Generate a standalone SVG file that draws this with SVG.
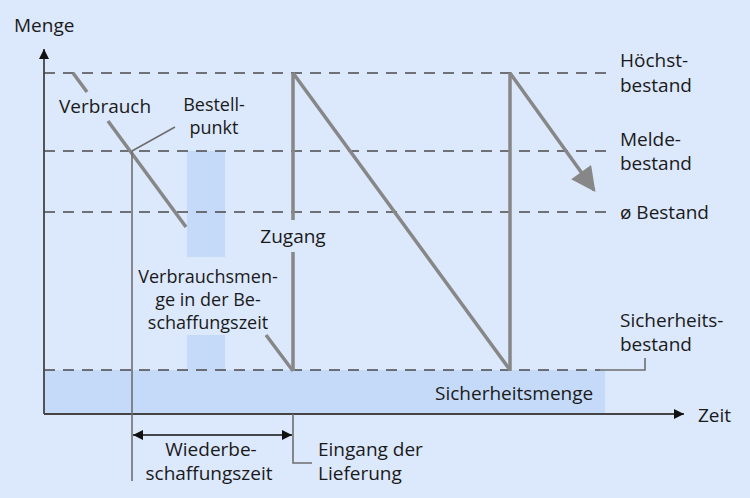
<svg xmlns="http://www.w3.org/2000/svg" width="750" height="498" viewBox="0 0 750 498">
<defs>
<style>
text{font-family:"Open Sans","Liberation Sans",sans-serif;font-size:19px;fill:#1a1a1a}
.dash{stroke:#4a4a4a;stroke-width:1.4;stroke-dasharray:11 8;fill:none}
.thick{stroke:#878787;stroke-width:3.5;fill:none}
.thin{stroke:#6e6e6e;stroke-width:1.6;fill:none}
.axis{stroke:#444;stroke-width:1.8;fill:none}
.shade{fill:#c5daf9}
.mid{text-anchor:middle}
.sm{font-size:18px}
</style>
<marker id="ah" viewBox="0 0 10 10" refX="10" refY="5" markerWidth="14" markerHeight="10" markerUnits="userSpaceOnUse" orient="auto-start-reverse"><path d="M0,0 L10,5 L0,10 z" fill="#111"/></marker>
<marker id="ahg" viewBox="0 0 10 10" refX="9" refY="5" markerWidth="8" markerHeight="7" orient="auto"><path d="M0,0 L10,5 L0,10 z" fill="#878787"/></marker>
</defs>
<rect x="0" y="0" width="750" height="498" fill="#dce8fc"/>
<g id="shading">
<rect class="shade" x="44" y="370" width="561" height="44"/>
<rect class="shade" x="187" y="151" width="38" height="106"/>
<rect class="shade" x="187" y="335" width="38" height="35"/>
</g>
<g id="levels">
<line class="dash" x1="44" y1="73" x2="606" y2="73"/>
<line class="dash" x1="44" y1="151" x2="606" y2="151"/>
<line class="dash" x1="44" y1="212" x2="606" y2="212"/>
<line class="dash" x1="44" y1="370" x2="600" y2="370"/>
<polyline class="thin" points="598,370 645,370 645,358"/>
</g>
<g id="axes">
<line class="axis" x1="44" y1="414" x2="44" y2="49" marker-end="url(#ah)"/>
<line class="axis" x1="44" y1="414" x2="684" y2="414" marker-end="url(#ah)"/>
</g>
<g id="connectors">
<line class="thick" x1="73" y1="73" x2="87" y2="92"/>
<line class="thick" x1="108" y1="121" x2="186" y2="227"/>
<line class="thick" x1="266" y1="335" x2="293" y2="371"/>
<line class="thick" x1="293" y1="371" x2="293" y2="252"/>
<line class="thick" x1="293" y1="220" x2="293" y2="73"/>
<line class="thick" x1="293" y1="73" x2="510" y2="370"/>
<line class="thick" x1="510" y1="371" x2="510" y2="73"/>
<line class="thick" x1="510" y1="73" x2="594" y2="190" marker-end="url(#ahg)"/>
<line class="thin" x1="132" y1="151" x2="175" y2="127"/>
<line class="thin" x1="132" y1="151" x2="132" y2="481"/>
<polyline class="thin" points="293,414 293,463 312,463"/>
<line x1="133" y1="435" x2="292" y2="435" stroke="#111" stroke-width="1.6" marker-start="url(#ah)" marker-end="url(#ah)"/>
</g>
<g id="labels">
<text x="14" y="32">Menge</text>
<text x="698" y="422">Zeit</text>
<text x="59" y="113">Verbrauch</text>
<text class="mid sm" x="214" y="111">Bestell-</text>
<text class="mid sm" x="214" y="134">punkt</text>
<text class="mid" x="293" y="243">Zugang</text>
<text class="mid sm" x="208" y="283">Verbrauchsmen-</text>
<text class="mid sm" x="208" y="306">ge in der Be-</text>
<text class="mid sm" x="208" y="329">schaffungszeit</text>
<text x="435" y="400">Sicherheitsmenge</text>
<text x="620" y="67">Höchst-</text>
<text x="620" y="92">bestand</text>
<text x="620" y="146">Melde-</text>
<text x="620" y="170">bestand</text>
<text x="620" y="219">ø Bestand</text>
<text x="620" y="327">Sicherheits-</text>
<text x="620" y="351">bestand</text>
<text class="mid" x="211" y="456">Wiederbe-</text>
<text class="mid" x="209" y="480">schaffungszeit</text>
<text x="318" y="456">Eingang der</text>
<text x="318" y="480">Lieferung</text>
</g>
</svg>
